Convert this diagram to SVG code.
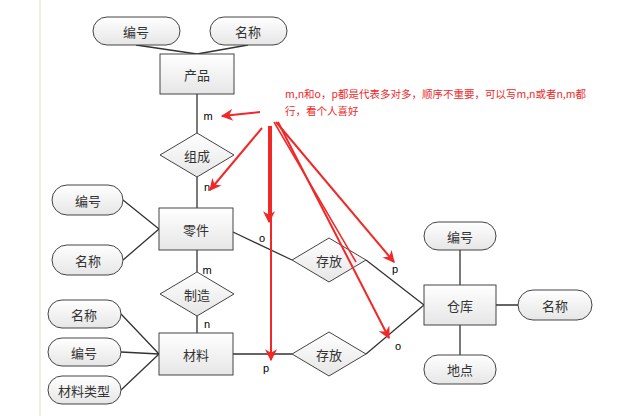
<svg xmlns="http://www.w3.org/2000/svg" width="633" height="416" viewBox="0 0 633 416">
<style>
.e{fill:url(#g);stroke:#444;stroke-width:1}
.t{font-family:"Noto Sans CJK SC","Liberation Sans",sans-serif;font-size:13px;fill:#333;text-anchor:middle;dominant-baseline:central}
.l{font-family:"Liberation Sans",sans-serif;font-size:11px;fill:#000;text-anchor:middle}
.c{stroke:#333;stroke-width:1.3;fill:none}
.r{stroke:#f02828;stroke-width:2;fill:none;marker-end:url(#a)}
</style>
<defs>
<linearGradient id="g" x1="0" y1="0" x2="0" y2="1"><stop offset="0" stop-color="#fff"/><stop offset="1" stop-color="#e6e6e6"/></linearGradient>
<marker id="a" viewBox="0 0 10 10" refX="9" refY="5" markerWidth="7" markerHeight="6" orient="auto"><path d="M0,0L10,5L0,10L3,5z" fill="#f02828"/></marker>
</defs>
<rect x="0" y="0" width="633" height="416" fill="#fff"/>
<line x1="40" y1="0" x2="40" y2="416" stroke="#f3efe0" stroke-width="2"/>
<g id="connectors">
<path class="c" d="M136,45L197,54M248,45L197,54M197,94V133M197,177V208M123,200L159,229M123,260L159,229M197,250V272M197,316V333M121,314L159,354M121,352L159,354M121,390L159,354M233,232L292,260M366,260L424,305M233,354H292M366,354L424,305M460,250V285M496,305H518M460,325V355"/>
</g>
<g id="p1"><rect class="e" x="160" y="54" width="74" height="40"/><text class="t" x="197" y="74">产品</text></g>
<g id="a1"><rect class="e" x="93" y="17" width="87" height="28" rx="14"/><text class="t" x="136" y="31">编号</text></g>
<g id="a2"><rect class="e" x="210" y="17" width="77" height="28" rx="14"/><text class="t" x="248" y="31">名称</text></g>
<g id="d1"><polygon class="e" points="160,155 197,133 234,155 197,177"/><text class="t" x="197" y="155">组成</text></g>
<g id="p2"><rect class="e" x="159" y="208" width="74" height="42"/><text class="t" x="196" y="229">零件</text></g>
<g id="a3"><rect class="e" x="52" y="185" width="71" height="30" rx="15"/><text class="t" x="88" y="200">编号</text></g>
<g id="a4"><rect class="e" x="52" y="245" width="71" height="30" rx="15"/><text class="t" x="88" y="260">名称</text></g>
<g id="d2"><polygon class="e" points="160,294 197,272 234,294 197,316"/><text class="t" x="197" y="294">制造</text></g>
<g id="p3"><rect class="e" x="159" y="333" width="74" height="42"/><text class="t" x="196" y="354">材料</text></g>
<g id="a5"><rect class="e" x="48" y="300" width="73" height="28" rx="14"/><text class="t" x="84" y="314">名称</text></g>
<g id="a6"><rect class="e" x="48" y="338" width="73" height="28" rx="14"/><text class="t" x="84" y="352">编号</text></g>
<g id="a7"><rect class="e" x="48" y="376" width="73" height="28" rx="14"/><text class="t" x="84" y="390">材料类型</text></g>
<g id="d3"><polygon class="e" points="292,260 329,238 366,260 329,282"/><text class="t" x="329" y="260">存放</text></g>
<g id="d4"><polygon class="e" points="292,354 329,332 366,354 329,376"/><text class="t" x="329" y="354">存放</text></g>
<g id="p4"><rect class="e" x="424" y="285" width="72" height="40"/><text class="t" x="460" y="305">仓库</text></g>
<g id="a8"><rect class="e" x="424" y="222" width="72" height="28" rx="14"/><text class="t" x="460" y="236">编号</text></g>
<g id="a9"><rect class="e" x="518" y="290" width="74" height="30" rx="15"/><text class="t" x="555" y="305">名称</text></g>
<g id="a10"><rect class="e" x="424" y="355" width="72" height="29" rx="14"/><text class="t" x="460" y="369">地点</text></g>
<g id="labels">
<text class="l" x="208" y="120">m</text><text class="l" x="207" y="191">n</text>
<text class="l" x="262" y="242">o</text><text class="l" x="395" y="273">p</text>
<text class="l" x="207" y="274">m</text><text class="l" x="207" y="328">n</text>
<text class="l" x="266" y="372">p</text><text class="l" x="398" y="350">o</text>
</g>
<g id="note">
<path class="r" d="M260,112L222,116"/>
<path class="r" d="M262,128L210,190"/>
<path class="r" d="M269,126V222"/>
<path class="r" d="M271,126V360"/>
<path class="r" d="M276,122L394,262"/>
<path class="r" d="M278,122L389,338"/>
<path stroke="#f02828" stroke-width="1.5" fill="none" d="M274,122L356,262"/>
<text x="285" y="98" font-family="Noto Sans CJK SC,sans-serif" font-size="10.5" fill="#f02828">m,n和o，p都是代表多对多，顺序不重要，可以写m,n或者n,m都</text>
<text x="285" y="115" font-family="Noto Sans CJK SC,sans-serif" font-size="10.5" fill="#f02828">行，看个人喜好</text>
</g>
</svg>
